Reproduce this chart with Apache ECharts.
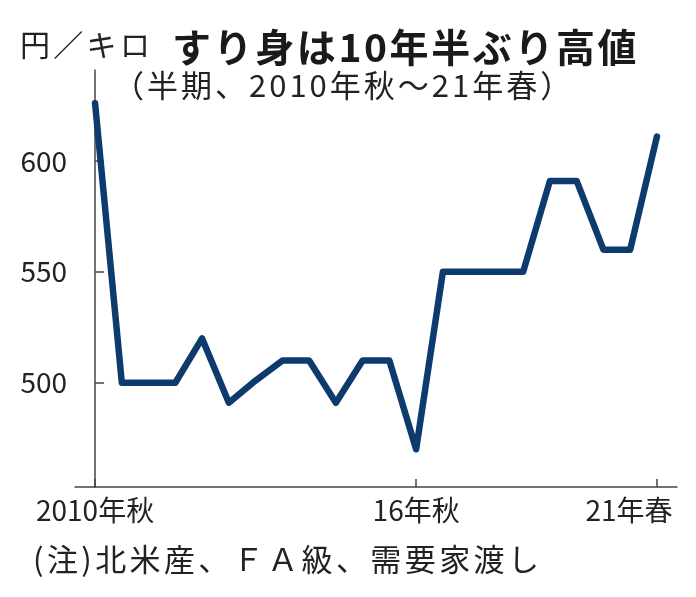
<!DOCTYPE html>
<html>
<head>
<meta charset="utf-8">
<script src="https://cdn.jsdelivr.net/npm/echarts@6/dist/echarts.min.js"></script>
<style>
  html, body { margin: 0; padding: 0; background: #fff; }
  #chart { width: 696px; height: 597px; }
</style>
</head>
<body>
<div id="chart"></div>
<script>
// 半期ごとの期間（2010年秋〜21年春）
const periods = [
  '2010年秋', '11年春', '11年秋', '12年春', '12年秋', '13年春', '13年秋', '14年春',
  '14年秋', '15年春', '15年秋', '16年春', '16年秋', '17年春', '17年秋', '18年春',
  '18年秋', '19年春', '19年秋', '20年春', '20年秋', '21年春'
];
// すり身価格（円／キロ）
const prices = [
  626, 500, 500, 500, 520, 491, 501, 510, 510, 491, 510,
  510, 470, 550, 550, 550, 550, 591, 591, 560, 560, 611
];
const yTicks = [500, 550, 600];
const xTickIdx = [0, 12, 21];

const font = '"Noto Sans CJK JP", "Noto Sans", sans-serif';
const textColor = '#222';
const axisColor = '#444';

// 文字間を少し空ける（rich の padding で代用）
const spaced = (str) => Array.from(str).map(ch => '{c|' + ch + '}').join('');
const spacedStyle = (size, gap, weight, color) => ({
  text: '',
  rich: { c: { fontFamily: font, fontSize: size, fontWeight: weight || 'normal', fill: color || textColor, padding: [0, gap, 0, 0] } }
});

const chart = echarts.init(document.getElementById('chart'));

const option = {
  backgroundColor: '#fff',
  animation: false,
  grid: { left: 75, right: 19, top: 70, bottom: 110 },
  xAxis: {
    type: 'value',
    min: -0.75,
    max: 21.75,
    splitLine: { show: false },
    axisLine: { lineStyle: { color: axisColor, width: 1.5 } },
    axisTick: {
      inside: true,
      length: 8,
      customValues: xTickIdx,
      lineStyle: { color: axisColor, width: 1.5 }
    },
    axisLabel: {
      customValues: xTickIdx,
      margin: 9,
      color: textColor,
      fontFamily: font,
      fontSize: 28,
      formatter: (v) => {
        const label = periods[Math.round(v)];
        return Math.round(v) === periods.length - 1 ? '{r|' + label + '}' : label;
      },
      rich: {
        r: { fontFamily: font, fontSize: 28, color: textColor, padding: [0, 56, 0, 0] }
      }
    }
  },
  yAxis: {
    type: 'value',
    min: 453,
    max: 641,
    splitLine: { show: false },
    axisLine: { show: true, lineStyle: { color: axisColor, width: 1.5 } },
    axisTick: {
      show: true,
      inside: true,
      length: 9,
      customValues: yTicks,
      lineStyle: { color: axisColor, width: 1.5 }
    },
    axisLabel: {
      customValues: yTicks,
      margin: 8,
      color: textColor,
      fontFamily: font,
      fontSize: 28
    }
  },
  series: [{
    type: 'line',
    data: prices.map((v, i) => [i, v]),
    symbol: 'none',
    lineStyle: { color: '#0d3b6e', width: 6.5, cap: 'round', join: 'round' }
  }],
  graphic: [
    {
      type: 'text', left: 20, top: 30,
      style: Object.assign(spacedStyle(30, 3.3), { text: spaced('円／キロ') })
    },
    {
      type: 'text', left: 172, top: 28,
      style: Object.assign(spacedStyle(39, 2.6, 'bold', '#1a1a1a'), { text: spaced('すり身は10年半ぶり高値') })
    },
    {
      type: 'text', left: 113, top: 70,
      style: Object.assign(spacedStyle(31, 3), { text: spaced('（半期、2010年秋～21年春）') })
    },
    {
      type: 'text', left: 33, top: 544,
      style: Object.assign(spacedStyle(31, 3.4), { text: spaced('(注)北米産、ＦＡ級、需要家渡し') })
    }
  ]
};

chart.setOption(option);
window.addEventListener('resize', () => chart.resize());
</script>
</body>
</html>
